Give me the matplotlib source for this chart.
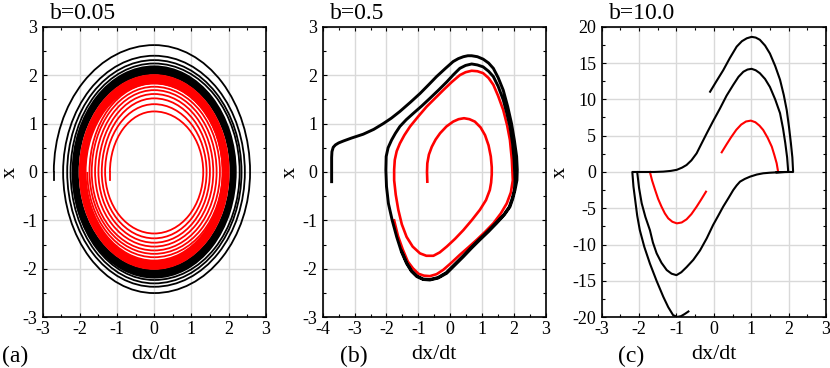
import matplotlib
matplotlib.use('Agg')
import matplotlib.pyplot as plt
from matplotlib.patches import Arc, Annulus
from matplotlib.ticker import MultipleLocator

# ---- data ----
# panel (a) b=0.05 : axis crossings of each turn of the spirals
# (left = |dx/dt| at x=0 on the left, top = x at dx/dt=0, ...)
a_blk_start = (-2.70, -0.17)
a_blk_left = [2.70, 2.45, 2.34, 2.25, 2.19]
a_blk_top = [2.62, 2.40, 2.31, 2.24]
a_blk_right = [2.58, 2.44, 2.35, 2.30]
a_blk_bottom = [2.50, 2.37, 2.30, 2.23]
a_blk_band = [2.22, 2.20, 0.19]   # semi axes and thickness of the dense black ring

a_red_start = (-1.19, -0.17)
a_red_left = [1.19, 1.32, 1.41, 1.50, 1.59, 1.68, 1.74, 1.80]
a_red_top = [1.25, 1.40, 1.52, 1.61, 1.69, 1.76, 1.83]
a_red_right = [1.32, 1.41, 1.50, 1.59, 1.68, 1.77, 1.84]
a_red_bottom = [1.27, 1.37, 1.46, 1.54, 1.62, 1.69, 1.76]
a_red_band = [2.03, 2.02, 0.21]

# panel (b) b=0.5
# black: start and first (outer) half turn
b_out_v = [-3.72, -3.72, -3.71, -3.67, -3.60, -3.50, -3.35, -3.10, -2.73, -2.40, -2.10, -1.85,
           -1.58, -1.25, -0.95, -0.68, -0.43, -0.15, 0.09, 0.25, 0.41, 0.55, 0.67, 0.85, 1.03,
           1.20, 1.35, 1.50, 1.66, 1.80, 1.92, 2.01, 2.08, 2.10, 2.09]
b_out_x = [-0.20, 0.30, 0.42, 0.51, 0.56, 0.60, 0.64, 0.70, 0.78, 0.88, 1.00, 1.11,
           1.25, 1.44, 1.62, 1.80, 1.97, 2.14, 2.28, 2.34, 2.38, 2.40, 2.40, 2.38, 2.33,
           2.25, 2.14, 1.95, 1.69, 1.35, 1.00, 0.65, 0.32, 0.05, -0.17]
# black: the limit cycle it settles on
b_cyc_v = [2.09, 2.03, 1.96, 1.87, 1.70, 1.45, 1.20, 0.93, 0.67, 0.41, 0.15, -0.11, -0.38,
           -0.64, -0.85, -1.05, -1.22, -1.37, -1.53, -1.68, -1.82, -1.94, -2.00, -2.02, -2.01,
           -1.95, -1.84, -1.72, -1.58, -1.38, -1.16, -0.90, -0.64, -0.37, -0.11, 0.10, 0.30,
           0.48, 0.67, 0.85, 1.03, 1.20, 1.35, 1.50, 1.66, 1.77, 1.87, 1.95, 2.00, 2.03, 2.01,
           1.94, 1.85, 1.68, 1.43, 1.18, 0.91, 0.65, 0.39, 0.13, -0.13, -0.39, -0.64, -0.85,
           -1.04, -1.21, -1.36, -1.52]
b_cyc_x = [-0.17, -0.37, -0.55, -0.72, -0.88, -1.06, -1.23, -1.40, -1.57, -1.75, -1.92, -2.09, -2.19,
           -2.23, -2.22, -2.16, -2.05, -1.89, -1.65, -1.34, -1.00, -0.65, -0.30, 0.04, 0.32,
           0.50, 0.66, 0.80, 0.94, 1.08, 1.21, 1.36, 1.52, 1.69, 1.86, 2.01, 2.14,
           2.20, 2.23, 2.21, 2.17, 2.08, 1.97, 1.77, 1.49, 1.22, 0.94, 0.60, 0.25, -0.17, -0.37,
           -0.55, -0.72, -0.88, -1.05, -1.22, -1.39, -1.56, -1.74, -1.91, -2.08, -2.18, -2.22, -2.21,
           -2.15, -2.04, -1.88, -1.64]

b_red_v = [-0.72, -0.73, -0.72, -0.67, -0.58, -0.46, -0.32, -0.12, 0.09, 0.26, 0.43, 0.60, 0.77,
           0.95, 1.09, 1.20, 1.27, 1.30, 1.30, 1.28, 1.24, 1.12, 0.93, 0.68, 0.41, 0.15, -0.11,
           -0.33, -0.53, -0.75, -0.95, -1.18, -1.37, -1.52, -1.63, -1.71, -1.76, -1.76, -1.74,
           -1.68, -1.58, -1.44, -1.26, -1.00, -0.74, -0.48, -0.22, 0.05, 0.30, 0.48, 0.67, 0.85,
           1.03, 1.20, 1.35, 1.50, 1.66, 1.78, 1.87, 1.93, 1.96, 1.90, 1.77, 1.58, 1.35, 1.10,
           0.83, 0.56, 0.30, 0.04, -0.22, -0.43, -0.64, -0.83, -1.00, -1.17, -1.33, -1.49, -1.64,
           -1.76]
b_red_x = [-0.20, 0.00, 0.18, 0.36, 0.52, 0.67, 0.80, 0.94, 1.04, 1.09, 1.11, 1.09, 1.04,
           0.92, 0.76, 0.55, 0.32, 0.10, -0.05, -0.22, -0.37, -0.58, -0.78, -0.99, -1.20, -1.38, -1.54,
           -1.66, -1.73, -1.73, -1.68, -1.54, -1.34, -1.08, -0.78, -0.47, -0.17, 0.05, 0.25,
           0.43, 0.59, 0.76, 0.94, 1.15, 1.35, 1.52, 1.69, 1.86, 2.00, 2.06, 2.09, 2.08,
           2.04, 1.94, 1.80, 1.57, 1.28, 0.97, 0.66, 0.25, -0.17, -0.42, -0.65, -0.86, -1.06, -1.23,
           -1.40, -1.56, -1.71, -1.87, -2.02, -2.11, -2.15, -2.14, -2.10, -1.99, -1.85, -1.60, -1.32,
           -1.00]

# panel (c) b=10.0
c_blk1_v = [-0.10, 0.07, 0.25, 0.43, 0.61, 0.75, 0.88, 1.01, 1.12, 1.23, 1.37, 1.50, 1.64, 1.77,
            1.87, 1.95, 2.01, 2.06, 2.10, 2.12, 1.90, 1.68, 1.50, 1.32, 1.15, 0.97, 0.83, 0.70,
            0.61, 0.52, 0.39, 0.25, 0.12, -0.02, -0.19, -0.37, -0.55, -0.73, -0.87, -1.00, -1.13,
            -1.26, -1.40, -1.53, -1.63, -1.71, -1.83, -1.93, -2.00, -2.05, -1.60, -1.35, -1.15,
            -0.99, -0.85, -0.73, -0.60, -0.46, -0.33, -0.19, -0.02, 0.16, 0.34, 0.52, 0.66, 0.79,
            0.90, 1.01, 1.12, 1.23, 1.37, 1.50, 1.64, 1.77, 1.85, 1.91, 1.96, 1.99, 1.84, 1.68]
c_blk1_x = [11.05, 12.5, 14.0, 15.7, 17.25, 18.0, 18.4, 18.6, 18.5, 18.2, 17.4, 16.3, 14.6, 12.7,
            10.6, 8.5, 6.2, 4.0, 2.0, 0.0, 0.0, -0.05, -0.10, -0.18, -0.35, -0.64, -0.95, -1.33,
            -1.85, -2.48, -3.6, -4.77, -6.0, -7.3, -9.13, -10.8, -12.1, -13.1, -13.8, -14.2, -14.0,
            -13.5, -12.5, -11.2, -9.7, -8.0, -6.2, -4.3, -2.2, 0.0, 0.0, 0.05, 0.15,
            0.30, 0.60, 0.96, 1.6, 2.57, 3.9, 5.32, 7.0, 8.7, 10.5, 12.0, 13.1, 13.8,
            14.1, 14.2, 14.0, 13.6, 12.8, 11.7, 10.0, 8.1, 6.0, 4.0, 2.0, 0.0, -0.02, -0.05]
c_blk2_v = [-0.68, -0.78, -0.88, -0.98, -1.09, -1.22, -1.35, -1.53, -1.71, -1.86, -1.98, -2.05,
            -2.10, -2.15, -2.18, -2.05]
c_blk2_x = [-19.2, -19.55, -19.85, -19.95, -19.7, -18.6, -17.2, -15.0, -12.6, -10.3, -8.0, -6.0,
            -4.0, -2.0, 0.0, 0.0]
c_red1_v = [0.21, 0.34, 0.46, 0.60, 0.73, 0.86, 0.99, 1.11, 1.22, 1.32, 1.44, 1.55, 1.62, 1.68, 1.72]
c_red1_x = [2.71, 3.8, 4.77, 5.8, 6.52, 6.95, 7.07, 6.85, 6.38, 5.78, 4.7, 3.48, 2.3, 1.2, 0.0]
c_red2_v = [-1.71, -1.65, -1.57, -1.49, -1.40, -1.31, -1.22, -1.11, -0.99, -0.86, -0.73, -0.60,
            -0.46, -0.34, -0.21]
c_red2_x = [0.0, -1.2, -2.48, -3.7, -4.77, -5.7, -6.38, -6.85, -7.07, -6.95, -6.52, -5.8,
            -4.77, -3.8, -2.71]

titles = ['b=0.05', 'b=0.5', 'b=10.0']
letters = ['(a)', '(b)', '(c)']

plt.rcParams['font.family'] = ['Liberation Serif', 'DejaVu Serif']
plt.rcParams['axes.unicode_minus'] = False
plt.rcParams['lines.solid_joinstyle'] = 'round'

fig = plt.figure(figsize=(8.3, 3.68), dpi=100)
axa = fig.add_axes([0.0514, 0.1378, 0.2687, 0.7897])
axb = fig.add_axes([0.3888, 0.1378, 0.2690, 0.7897])
axc = fig.add_axes([0.7249, 0.1378, 0.2703, 0.7897])


def spiral(ax, left, top, right, bottom, start, col, lw):
    # one quarter ellipse between successive axis crossings
    ax.plot([start[0], -left[0]], [start[1], 0], color=col, lw=lw)
    for i in range(len(top)):
        ax.add_patch(Arc((0, 0), 2 * left[i], 2 * top[i], theta1=90, theta2=180, color=col, lw=lw))
        if i < len(right):
            ax.add_patch(Arc((0, 0), 2 * right[i], 2 * top[i], theta1=0, theta2=90, color=col, lw=lw))
        if i < len(bottom):
            ax.add_patch(Arc((0, 0), 2 * right[i], 2 * bottom[i], theta1=270, theta2=360, color=col, lw=lw))
            ax.add_patch(Arc((0, 0), 2 * left[i + 1], 2 * bottom[i], theta1=180, theta2=270, color=col, lw=lw))


# (a)
spiral(axa, a_blk_left, a_blk_top, a_blk_right, a_blk_bottom, a_blk_start, 'black', 1.3)
axa.add_patch(Annulus((0, 0), (a_blk_band[0], a_blk_band[1]), a_blk_band[2], color='black', lw=0))
axa.add_patch(Annulus((0, 0), (a_red_band[0], a_red_band[1]), a_red_band[2], color='red', lw=0))
spiral(axa, a_red_left, a_red_top, a_red_right, a_red_bottom, a_red_start, 'red', 1.3)

# (b)
axb.plot(b_red_v, b_red_x, color='red', lw=1.9)
axb.plot(b_out_v + b_cyc_v, b_out_x + b_cyc_x, color='black', lw=2.1)

# (c)
axc.plot(c_red1_v, c_red1_x, color='red', lw=1.5)
axc.plot(c_red2_v, c_red2_x, color='red', lw=1.5)
axc.plot(c_blk1_v, c_blk1_x, color='black', lw=1.5)
axc.plot(c_blk2_v, c_blk2_x, color='black', lw=1.5)

axa.set_xlim(-3, 3)
axa.set_ylim(-3, 3)
axb.set_xlim(-4, 3)
axb.set_ylim(-3, 3)
axc.set_xlim(-3, 3)
axc.set_ylim(-20, 20)

for i, ax in enumerate([axa, axb, axc]):
    ax.xaxis.set_major_locator(MultipleLocator(1))
    ax.xaxis.set_minor_locator(MultipleLocator(0.5))
    if i == 2:
        ax.yaxis.set_major_locator(MultipleLocator(5))
        ax.yaxis.set_minor_locator(MultipleLocator(2.5))
    else:
        ax.yaxis.set_major_locator(MultipleLocator(1))
        ax.yaxis.set_minor_locator(MultipleLocator(0.5))
    ax.grid(True, color='#d9d9d9', lw=1.0)
    ax.set_axisbelow(True)
    ax.tick_params(which='both', direction='in', top=True, right=True, labelsize=13, width=0.8)
    ax.tick_params(which='major', length=3)
    ax.tick_params(which='minor', length=2.5)
    ax.tick_params(axis='x', pad=3)
    ax.tick_params(axis='y', pad=4)
    for s in ax.spines.values():
        s.set_linewidth(1.2)
    ax.set_xlabel('dx/dt', fontsize=16, labelpad=5)
    ax.set_ylabel('x', fontsize=16, labelpad=2)
    ax.text(0.033, 1.027, titles[i], transform=ax.transAxes, fontsize=17, va='baseline', ha='left')

fig.text(0.0024, 0.016, letters[0], fontsize=17, va='baseline')
fig.text(0.41, 0.016, letters[1], fontsize=17, va='baseline')
fig.text(0.7446, 0.016, letters[2], fontsize=17, va='baseline')

fig.savefig('out.png', dpi=100)
